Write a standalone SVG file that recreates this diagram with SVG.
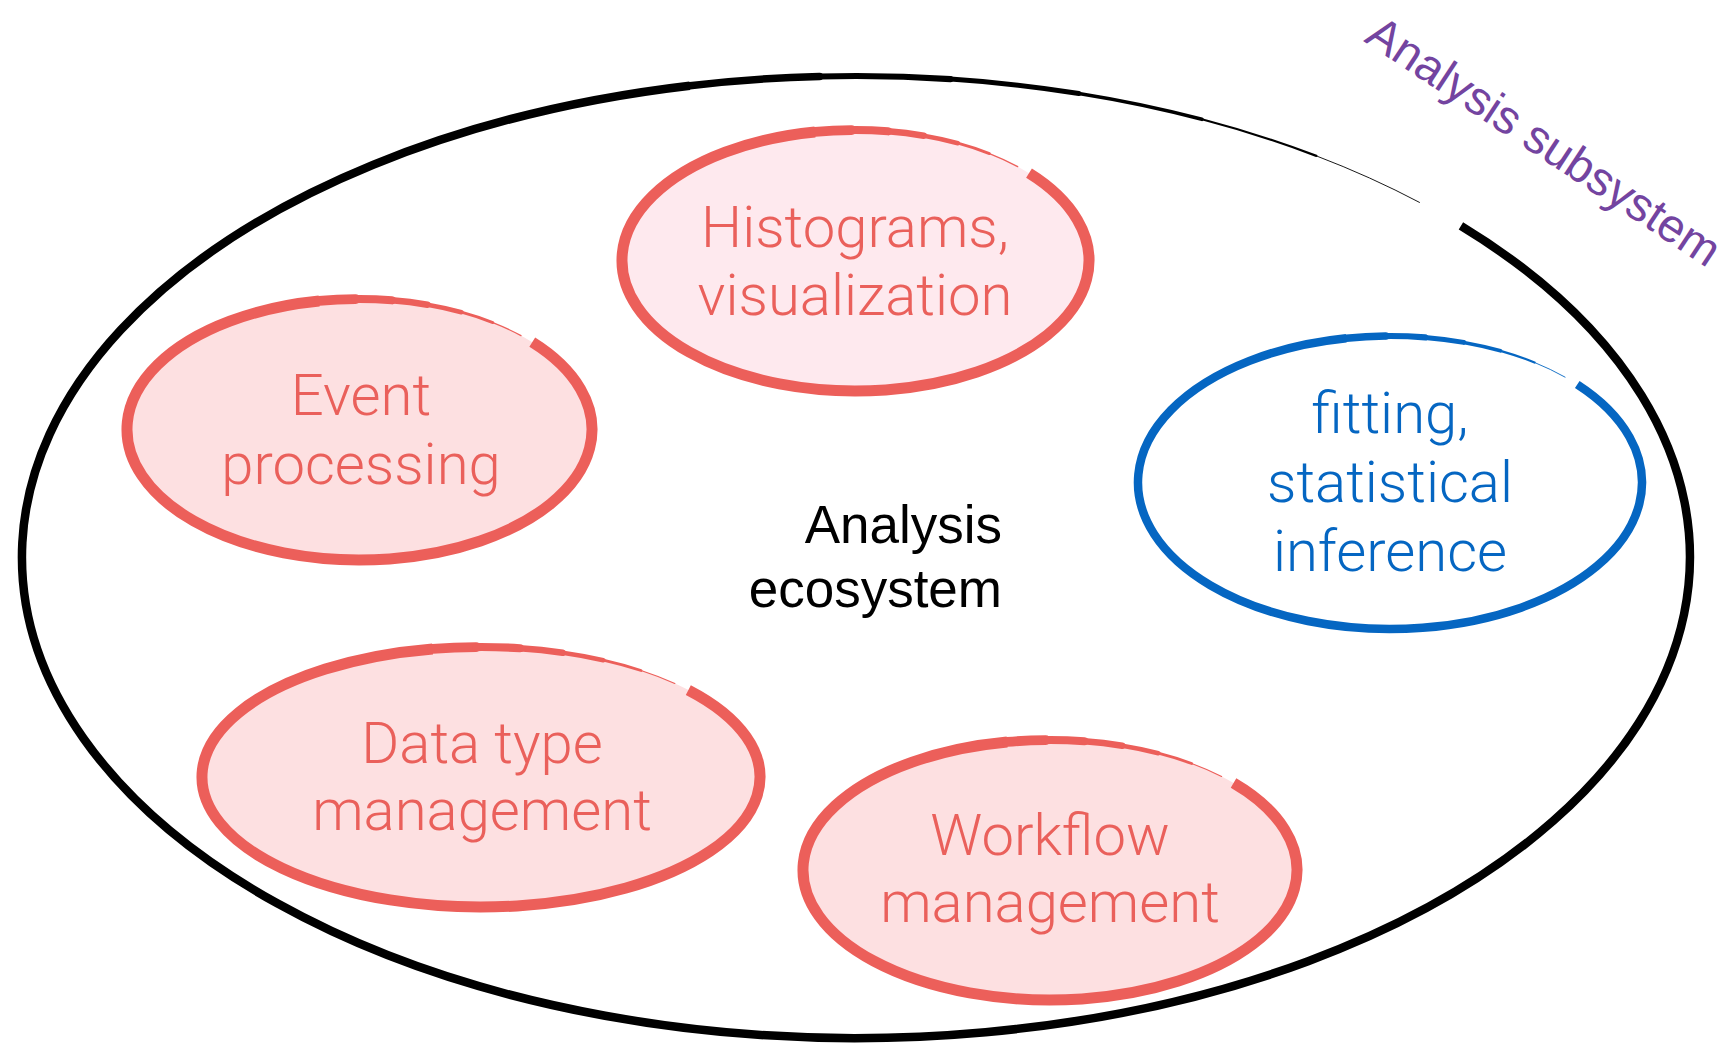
<svg xmlns="http://www.w3.org/2000/svg" xmlns:xlink="http://www.w3.org/1999/xlink" width="1729" height="1045" viewBox="0 0 1729 1045">
  <defs>
    <!-- Brush-stroke ellipse on a unit circle: a heavy arc that starts at the upper right,
         runs clockwise round, and thins out across the top before meeting its own start. -->
    <path id="arc-main" d="M 0.7431 -0.6691 A 1 1 0 1 1 -0.1736 -0.9848" vector-effect="non-scaling-stroke"/>
    <path id="arc-t1" d="M -0.1736 -0.9848 A 1 1 0 0 1 -0.0175 -0.9998" vector-effect="non-scaling-stroke"/>
    <path id="arc-t2" d="M -0.0175 -0.9998 A 1 1 0 0 1 0.1392 -0.9903" vector-effect="non-scaling-stroke"/>
    <path id="arc-t3" d="M 0.1392 -0.9903 A 1 1 0 0 1 0.2924 -0.9563" vector-effect="non-scaling-stroke"/>
    <path id="arc-t4" d="M 0.2924 -0.9563 A 1 1 0 0 1 0.4384 -0.8988" vector-effect="non-scaling-stroke"/>
    <path id="arc-t5" d="M 0.4384 -0.8988 A 1 1 0 0 1 0.5736 -0.8192" vector-effect="non-scaling-stroke"/>
    <path id="arc-t6" d="M 0.5736 -0.8192 A 1 1 0 0 1 0.6947 -0.7193" vector-effect="non-scaling-stroke"/>
  </defs>
  <style>
    .brush { fill: none; stroke-linecap: round; }
    .brush .start { stroke-linecap: butt; }
    .red { stroke: #ec5f5a; }
    .blue { stroke: #0566c2; }
    .black { stroke: #000000; }
    .label { font-family: Roboto, "Liberation Sans", sans-serif; font-weight: 300; font-size: 58px; text-anchor: middle; }
    .label-red { fill: #ea605b; }
    .label-blue { fill: #0566c2; }
    .title { font-family: "Liberation Sans", Arial, sans-serif; font-size: 53px; fill: #000000; text-anchor: end; }
    .subsystem { font-family: "Liberation Sans", Arial, sans-serif; font-size: 47px; fill: #7344a0; }
  </style>

  <rect width="1729" height="1045" fill="#ffffff"/>

  <!-- Outer boundary: the analysis ecosystem -->
  <g id="ecosystem">
    <g class="brush black" transform="translate(856 557) scale(834 481) rotate(-1.5)">
      <use class="start" xlink:href="#arc-main" stroke-width="8.5"/>
      <use xlink:href="#arc-t1" stroke-width="7.5"/>
      <use xlink:href="#arc-t2" stroke-width="6.2"/>
      <use xlink:href="#arc-t3" stroke-width="5"/>
      <use xlink:href="#arc-t4" stroke-width="3.6"/>
      <use xlink:href="#arc-t5" stroke-width="2.2"/>
      <use xlink:href="#arc-t6" stroke-width="0.9"/>
    </g>
    <text class="title" x="1002" y="543">Analysis</text>
    <text class="title" x="1002" y="607">ecosystem</text>
  </g>

  <g id="subsystem-label">
    <text class="subsystem" x="1363" y="41" transform="rotate(33.4 1363 41)">Analysis subsystem</text>
  </g>

  <g id="connectors"/>

  <g id="node-histograms">
    <ellipse cx="855.5" cy="260.5" rx="233.5" ry="130.5" fill="#fee9ee"/>
    <g class="brush red" transform="translate(855.5 260.5) scale(233.5 130.5)">
      <use class="start" xlink:href="#arc-main" stroke-width="11"/>
      <use xlink:href="#arc-t1" stroke-width="9.8"/>
      <use xlink:href="#arc-t2" stroke-width="8.2"/>
      <use xlink:href="#arc-t3" stroke-width="6.5"/>
      <use xlink:href="#arc-t4" stroke-width="4.6"/>
      <use xlink:href="#arc-t5" stroke-width="2.8"/>
      <use xlink:href="#arc-t6" stroke-width="1.2"/>
    </g>
    <text class="label label-red" x="855" y="247">Histograms,</text>
    <text class="label label-red" x="855" y="315">visualization</text>
  </g>

  <g id="node-event">
    <ellipse cx="359.5" cy="429.5" rx="232.5" ry="130.5" fill="#fde0e1"/>
    <g class="brush red" transform="translate(359.5 429.5) scale(232.5 130.5)">
      <use class="start" xlink:href="#arc-main" stroke-width="11"/>
      <use xlink:href="#arc-t1" stroke-width="9.8"/>
      <use xlink:href="#arc-t2" stroke-width="8.2"/>
      <use xlink:href="#arc-t3" stroke-width="6.5"/>
      <use xlink:href="#arc-t4" stroke-width="4.6"/>
      <use xlink:href="#arc-t5" stroke-width="2.8"/>
      <use xlink:href="#arc-t6" stroke-width="1.2"/>
    </g>
    <text class="label label-red" x="361" y="415">Event</text>
    <text class="label label-red" x="361" y="484">processing</text>
  </g>

  <g id="node-fitting">
    <ellipse cx="1390" cy="482.5" rx="252" ry="146.5" fill="#ffffff"/>
    <g class="brush blue" transform="translate(1390 482.5) scale(252 146.5)">
      <use class="start" xlink:href="#arc-main" stroke-width="8.5"/>
      <use xlink:href="#arc-t1" stroke-width="7.5"/>
      <use xlink:href="#arc-t2" stroke-width="6.2"/>
      <use xlink:href="#arc-t3" stroke-width="5"/>
      <use xlink:href="#arc-t4" stroke-width="3.6"/>
      <use xlink:href="#arc-t5" stroke-width="2.2"/>
      <use xlink:href="#arc-t6" stroke-width="0.9"/>
    </g>
    <text class="label label-blue" x="1390" y="433">fitting,</text>
    <text class="label label-blue" x="1390" y="502">statistical</text>
    <text class="label label-blue" x="1390" y="571">inference</text>
  </g>

  <g id="node-datatype">
    <ellipse cx="481" cy="777" rx="279" ry="130" fill="#fde0e1"/>
    <g class="brush red" transform="translate(481 777) scale(279 130)">
      <use class="start" xlink:href="#arc-main" stroke-width="11"/>
      <use xlink:href="#arc-t1" stroke-width="9.8"/>
      <use xlink:href="#arc-t2" stroke-width="8.2"/>
      <use xlink:href="#arc-t3" stroke-width="6.5"/>
      <use xlink:href="#arc-t4" stroke-width="4.6"/>
      <use xlink:href="#arc-t5" stroke-width="2.8"/>
      <use xlink:href="#arc-t6" stroke-width="1.2"/>
    </g>
    <text class="label label-red" x="482" y="763">Data type</text>
    <text class="label label-red" x="482" y="830">management</text>
  </g>

  <g id="node-workflow">
    <ellipse cx="1050" cy="870" rx="247" ry="130" fill="#fde0e1"/>
    <g class="brush red" transform="translate(1050 870) scale(247 130)">
      <use class="start" xlink:href="#arc-main" stroke-width="11"/>
      <use xlink:href="#arc-t1" stroke-width="9.8"/>
      <use xlink:href="#arc-t2" stroke-width="8.2"/>
      <use xlink:href="#arc-t3" stroke-width="6.5"/>
      <use xlink:href="#arc-t4" stroke-width="4.6"/>
      <use xlink:href="#arc-t5" stroke-width="2.8"/>
      <use xlink:href="#arc-t6" stroke-width="1.2"/>
    </g>
    <text class="label label-red" x="1050" y="855">Workflow</text>
    <text class="label label-red" x="1050" y="922">management</text>
  </g>
</svg>
